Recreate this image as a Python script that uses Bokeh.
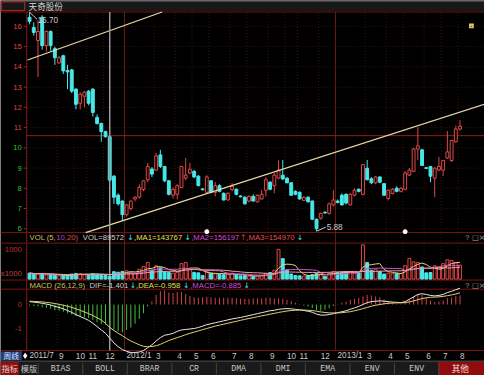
import pandas as pd
from bokeh.plotting import figure
from bokeh.models import Range1d, ColumnDataSource
from bokeh.core.properties import value
from bokeh.embed import file_html
from bokeh.resources import INLINE

# ---------------- data (weekly bars, 天奇股份) ----------------
opens = [16.45,15.95,15.30,16.45,15.05,15.75,14.90,14.20,14.55,13.82,
         13.85,12.90,12.20,12.55,12.80,12.90,11.50,11.20,10.80,10.55,
         8.60,7.66,7.37,6.70,7.00,7.47,7.56,7.94,8.42,8.95,
         8.90,9.65,9.08,8.37,7.66,7.70,8.04,8.50,8.75,8.84,
         8.60,7.97,7.80,8.37,7.80,8.13,7.75,7.42,7.94,7.95,
         7.62,7.56,7.37,7.60,7.33,7.47,7.90,8.30,8.13,8.50,
         8.65,8.50,8.27,7.85,7.80,7.40,7.56,7.37,6.47,6.52,
         6.82,6.76,7.18,7.37,7.66,7.70,7.18,7.66,7.95,7.70,
         8.99,8.47,8.27,8.56,8.23,7.50,7.75,8.00,7.85,7.95,
         8.65,8.84,9.94,9.90,9.02,9.08,8.50,8.90,8.90,9.50,
         9.37,10.30,10.93]
highs = [16.70,16.20,16.30,16.55,15.80,15.80,15.00,14.55,14.60,14.10,
         13.90,12.95,12.75,12.80,12.85,12.95,11.65,11.25,10.85,10.55,
         8.65,7.75,7.40,7.20,7.40,7.60,8.20,8.40,9.25,9.05,
         9.75,9.90,9.10,8.40,8.05,8.20,9.10,9.50,9.25,8.90,
         8.65,8.00,8.65,8.40,8.30,8.20,7.80,7.80,8.25,8.00,
         7.65,7.60,7.65,7.70,7.70,7.90,8.55,8.35,8.75,9.37,
         9.40,8.55,8.30,7.90,7.85,7.60,7.60,7.40,6.50,6.80,
         6.85,7.30,7.90,7.45,7.75,7.75,7.75,8.00,8.00,9.20,
         9.40,8.55,8.60,8.60,8.25,7.95,8.00,8.10,8.05,8.85,
         9.00,10.00,11.02,9.95,9.05,9.10,9.05,9.55,9.40,10.83,
         10.40,11.10,11.36]
lows = [16.10,15.55,13.50,14.85,14.75,14.80,14.10,14.15,13.65,12.90,
        12.70,11.90,11.90,12.00,12.10,11.55,11.15,10.30,10.50,8.30,
        7.23,7.15,6.38,6.60,6.90,7.35,7.50,7.85,8.30,8.55,
        8.85,9.00,8.30,7.65,7.50,7.45,8.00,8.40,8.70,8.50,
        8.10,7.90,7.75,7.75,7.60,7.80,7.40,7.40,7.85,7.65,
        7.55,7.20,7.30,7.35,7.30,7.45,7.60,7.90,7.75,8.45,
        8.40,8.25,7.62,7.65,7.45,7.38,7.30,6.45,5.88,6.45,
        6.75,6.70,7.10,7.25,7.15,7.20,7.15,7.60,7.80,7.65,
        8.40,8.20,8.20,8.25,7.62,7.40,7.70,7.80,7.80,7.90,
        8.60,8.80,9.40,9.10,8.95,8.30,7.56,8.85,8.60,9.45,
        9.30,10.25,10.85]
closes = [16.25,15.70,15.75,15.05,15.75,15.05,14.45,14.45,13.80,13.75,
          12.80,12.15,12.65,12.75,12.20,11.75,11.20,10.80,10.55,8.40,
          7.56,7.23,6.70,7.18,7.37,7.56,8.04,8.37,9.08,8.70,
          9.60,9.08,8.37,7.70,7.94,8.13,9.08,8.65,8.94,8.56,
          8.13,7.93,8.56,7.80,8.13,7.85,7.42,7.75,8.10,7.70,
          7.58,7.23,7.60,7.37,7.65,7.70,8.42,7.95,8.65,8.90,
          8.46,8.27,7.66,7.70,7.47,7.55,7.33,6.47,6.00,6.76,
          6.78,7.23,7.42,7.30,7.18,7.27,7.70,7.90,7.85,9.17,
          8.42,8.27,8.56,8.30,7.66,7.90,7.95,7.85,8.00,8.75,
          8.90,9.94,10.10,9.13,8.98,8.60,8.99,9.08,9.37,9.80,
          10.36,10.93,11.07]
volumes = [200,180,170,190,140,160,130,110,130,130,
           170,190,180,150,155,180,170,160,119,89.572,
           250,230,260,280,230,200,330,420,560,300,
           450,380,250,220,200,230,520,560,330,230,
           210,120,260,200,180,160,150,170,200,150,
           110,120,100,90,110,130,200,220,300,1000,
           690,310,170,120,110,100,120,150,200,180,
           100,200,250,220,230,220,240,200,210,1150,
           560,300,330,260,170,200,180,200,190,450,
           700,580,560,410,210,220,450,380,520,650,
           630,560,470]          # thousand shares
dif = [0.12,0.10,0.08,0.05,0.02,-0.02,-0.08,-0.12,-0.18,-0.25,
       -0.33,-0.42,-0.50,-0.58,-0.66,-0.78,-0.92,-1.06,-1.20,-1.401,
       -1.60,-1.76,-1.88,-1.95,-2.00,-2.00,-1.98,-1.92,-1.80,-1.68,
       -1.52,-1.38,-1.28,-1.25,-1.20,-1.12,-1.06,-1.04,-1.02,-1.00,
       -0.96,-0.90,-0.84,-0.80,-0.76,-0.72,-0.68,-0.64,-0.60,-0.57,
       -0.54,-0.50,-0.46,-0.42,-0.38,-0.34,-0.30,-0.26,-0.24,-0.20,
       -0.18,-0.17,-0.18,-0.20,-0.22,-0.25,-0.28,-0.32,-0.40,-0.44,
       -0.44,-0.42,-0.38,-0.34,-0.30,-0.26,-0.20,-0.14,-0.08,0.00,
       0.08,0.12,0.14,0.15,0.14,0.12,0.10,0.09,0.08,0.12,
       0.22,0.32,0.42,0.45,0.42,0.38,0.36,0.38,0.42,0.50,
       0.55,0.62,0.68]
dea = [0.14,0.13,0.12,0.11,0.09,0.07,0.04,0.01,-0.03,-0.07,
       -0.12,-0.18,-0.24,-0.31,-0.38,-0.46,-0.55,-0.65,-0.78,-0.958,
       -1.08,-1.20,-1.30,-1.42,-1.52,-1.60,-1.68,-1.74,-1.76,-1.75,
       -1.72,-1.66,-1.58,-1.50,-1.44,-1.38,-1.32,-1.26,-1.20,-1.15,
       -1.10,-1.05,-1.00,-0.95,-0.90,-0.86,-0.82,-0.78,-0.74,-0.70,
       -0.66,-0.62,-0.58,-0.55,-0.51,-0.47,-0.44,-0.40,-0.37,-0.33,
       -0.30,-0.27,-0.25,-0.24,-0.23,-0.23,-0.24,-0.25,-0.28,-0.31,
       -0.33,-0.35,-0.35,-0.35,-0.34,-0.32,-0.30,-0.26,-0.22,-0.17,
       -0.12,-0.07,-0.03,0.00,0.03,0.05,0.06,0.07,0.07,0.08,
       0.11,0.15,0.20,0.25,0.28,0.30,0.31,0.32,0.34,0.37,
       0.40,0.44,0.49]
month_labels = ["2011/7","9","10","11","12","2012/1","3","4","5","6","7","8",
                "9","10","11","12","2013/1","3","4","5","6","7","8"]
month_index = [0,7,11,14,18,23,30,35,39,43,48,52,57,61,64,69,73,80,85,89,94,98,102]
year_index = [23, 73]
price_ticks = [6,7,8,9,10,11,12,13,14,15,16]
vol_ticks = [1000]
macd_ticks = [0,-1,-2]
trend1_idx = [-0.46, 31.4]
trend1_price = [14.34, 16.71]
trend2_idx = [13.3, 107.8]
trend2_price = [5.81, 12.16]
mark_price = 10.6
cursor_idx = 19
signal_idx = [42, 89]
high_label, high_idx = "16.70", 0
low_label, low_idx = "5.88", 68
tab_labels = ["BIAS","BOLL","BRAR","CR","DMA","DMI","EMA","ENV","ENV"]

# ---------------- layout (reference pixel geometry) ----------------
W, H = 484, 375
FS = 0.96
X0, DX = 30.0, 4.36
Y16, PPU = 27.0, 21.1
VB, VK = 290.5, 0.031
MZ, MK = 317.0, 25.0
LEFT, TOP, MAIN_BOT, VOL_TOP, VOL_BOT, MACD_TOP, MACD_BOT, TAB_TOP = 27, 12, 242, 253, 291.5, 301, 365, 376

def idx(x): return (x - X0) / DX
def pr(y): return 16 - (y - Y16) / PPU

RED = "#7a1515"
GRID = "#3c1010"
UP = "#e04848"
DN = "#48e8e8"

p = figure(width=W, height=H, x_range=Range1d(idx(0), idx(500)),
           y_range=Range1d(pr(391), pr(0)), output_backend="svg",
           toolbar_location=None, min_border=0, x_axis_location=None,
           y_axis_location=None, background_fill_color="black",
           border_fill_color="black", outline_line_color=None)
p.grid.visible = False
p.extra_x_ranges = {"px": Range1d(0, 500)}
p.extra_y_ranges = {"py": Range1d(391, 0),
                    "vol": Range1d((VB - 391) / VK, VB / VK),
                    "macd": Range1d((MZ - 391) / MK, MZ / MK)}

def txt(x, y, s, color, size=8.0, align="left", font="Liberation Sans", xr="px", yr="py", xoff=0):
    kw = {}
    if xr: kw["x_range_name"] = xr
    if yr: kw["y_range_name"] = yr
    p.text(x=[x], y=[y], text=[s], text_color=color, text_font=value(font),
           text_font_size=f"{size*FS:.1f}px", text_align=align, x_offset=xoff,
           text_baseline="middle", **kw)

def hline(y, x0, x1, color, width=1, dash="solid"):
    p.segment(x0=[x0], y0=[y], x1=[x1], y1=[y], line_color=color, line_width=width,
              line_dash=dash, x_range_name="px", y_range_name="py")

# title bar
p.quad(left=[0], right=[500], top=[0], bottom=[11], fill_color="#181818", line_color=None,
       x_range_name="px", y_range_name="py")
hline(0.5, 0, 500, "#707070")
p.quad(left=[1], right=[25], top=[1.5], bottom=[10.5], fill_color=None, line_color="#c02020",
       x_range_name="px", y_range_name="py")
txt(29, 6, "天奇股份", "#d8d8d8", 9, font="Noto Sans CJK SC")
p.quad(left=[484], right=[489], top=[24], bottom=[29], fill_color="#d8c860", line_color=None,
       x_range_name="px", y_range_name="py")

# grids
n = len(closes)
xs = list(range(n))
p.segment(x0=[LEFT]*len(price_ticks), y0=price_ticks, x1=[500]*len(price_ticks), y1=price_ticks,
          line_color=GRID, line_dash="1 2", x_range_name="px")
mx = [m - 0.5 for m in month_index]
p.segment(x0=mx, y0=[TOP]*len(mx), x1=mx, y1=[MACD_BOT]*len(mx), line_color=GRID,
          line_dash="1 2", y_range_name="py")
yx = [m - 0.5 for m in year_index]
p.segment(x0=yx, y0=[TOP]*len(yx), x1=yx, y1=[MACD_BOT]*len(yx), line_color="#6a1616",
          y_range_name="py")
p.segment(x0=[LEFT], y0=[mark_price], x1=[500], y1=[mark_price], line_color="#9a1c1c",
          x_range_name="px")

# panel borders
for yb in [TOP, MAIN_BOT, VOL_TOP, VOL_BOT, MACD_TOP, MACD_BOT]:
    hline(yb, 0, 500, RED)
p.segment(x0=[LEFT], y0=[TOP], x1=[LEFT], y1=[MACD_BOT], line_color=RED,
          x_range_name="px", y_range_name="py")

# price labels
for t in price_ticks:
    txt(22, t, str(t), "#e04040" if t > mark_price else "#30c030", 8, align="right", yr=None)
p.segment(x0=[24]*len(price_ticks), y0=price_ticks, x1=[LEFT]*len(price_ticks), y1=price_ticks,
          line_color="#a02020", x_range_name="px")

# candles
df = pd.DataFrame(dict(x=xs, o=opens, h=highs, l=lows, c=closes, v=volumes, dif=dif, dea=dea))
df["up"] = df.c > df.o
df["col"] = df.up.map({True: UP, False: DN})
df["fill"] = df.up.map({True: "black", False: DN})
df["top"] = df[["o", "c"]].max(axis=1)
df["bot"] = df[["o", "c"]].min(axis=1)
src = ColumnDataSource(df)
p.segment(x0="x", y0="h", x1="x", y1="l", line_color="col", source=src)
p.vbar(x="x", width=0.68, top="top", bottom="bot", fill_color="fill", line_color="col", source=src)

# trend lines
p.line(trend1_idx, trend1_price, line_color="#e8d8a8", line_width=1.2)
p.line(trend2_idx, trend2_price, line_color="#e8d8a8", line_width=1.2)

# high / low annotations
p.segment(x0=[high_idx], y0=[highs[high_idx]], x1=[high_idx + 1.8], y1=[highs[high_idx] - 0.35],
          line_color="#c8c8c8")
txt(high_idx + 1.9, highs[high_idx] - 0.4, high_label, "#c8c8c8", 8.5, xr=None, yr=None)
p.segment(x0=[low_idx], y0=[lows[low_idx]], x1=[low_idx + 2.2], y1=[lows[low_idx] + 0.2],
          line_color="#c8c8c8")
txt(low_idx + 2.4, lows[low_idx] + 0.2, low_label, "#c8c8c8", 8.5, xr=None, yr=None)

# signal dots and cursor
p.scatter(x=signal_idx, y=[MAIN_BOT - 1]*len(signal_idx), size=4, color="white",
          y_range_name="py")
p.segment(x0=[cursor_idx], y0=[TOP], x1=[cursor_idx], y1=[MACD_BOT], line_color="#9a9a9a",
          line_width=1.5, y_range_name="py")

# ---------------- volume panel ----------------
p.vbar(x="x", width=0.68, top="v", bottom=0, fill_color="fill", line_color="col",
       source=src, y_range_name="vol")
df["ma1"] = df.v.rolling(5, min_periods=1).mean()
df["ma2"] = df.v.rolling(10, min_periods=1).mean()
df["ma3"] = df.v.rolling(20, min_periods=1).mean()
src.data.update(ma1=df.ma1, ma2=df.ma2, ma3=df.ma3)
p.line("x", "ma1", source=src, line_color="#e0d080", y_range_name="vol")
p.line("x", "ma2", source=src, line_color="#d050d0", y_range_name="vol")
p.line("x", "ma3", source=src, line_color="#f0a0a0", y_range_name="vol")
for t in vol_ticks:
    txt(22, t, str(t), "#c03030", 8, align="right", yr="vol")
txt(22, 285, "x1000", "#c04040", 8, align="right")

ARROWS = ("↓", "↑")
vol_head = [(30, "VOL (5,", "#c8c060"), (57.6, "10,", "#b050c0"), (68.7, "20)", "#d05050"),
            (85, "VOL=89572", "#d0d0d0"), (131, "↓", DN), (138, ",MA1=143767", "#e0e050"),
            (190, "↓", DN), (197, ",MA2=156197", "#d050d0"), (247.5, "↑", "#e04040"),
            (254, ",MA3=154970", "#e05050"), (306, "↓", DN)]
for x, s, c in vol_head:
    txt(x, 247, s, c, 8, font="DejaVu Sans" if s in ARROWS else "Liberation Sans")

macd_head = [(30, "MACD (26,12,9)", "#c8c060"), (92, "DIF=-1.401", "#d0d0d0"), (133.5, "↓", DN),
             (140, ",DEA=-0.958", "#e0e050"), (188.5, "↓", DN), (196, ",MACD=-0.885", "#d050d0"),
             (251, "↓", DN)]
for x, s, c in macd_head:
    txt(x, 297, s, c, 8, font="DejaVu Sans" if s in ARROWS else "Liberation Sans")
for yy in [247, 297]:
    txt(480, yy, "?", "#a0a0a0", 7.5)
    txt(487, yy, "□", "#a0a0a0", 7.5, font="DejaVu Sans")
    txt(494, yy, "×", "#a0a0a0", 8, font="DejaVu Sans")

# ---------------- MACD panel ----------------
df["macd"] = 2 * (df.dif - df.dea)
df["mcol"] = (df.macd >= 0).map({True: "#d04545", False: "#40c040"})
src.data.update(macd=df.macd, mcol=df.mcol)
p.segment(x0="x", y0=0, x1="x", y1="macd", line_color="mcol", source=src, y_range_name="macd")
p.line("x", "dif", source=src, line_color="#e8e8e8", y_range_name="macd")
p.line("x", "dea", source=src, line_color="#e0d070", y_range_name="macd")
for t in macd_ticks:
    txt(22, t, str(t), "#c03030", 8, align="right", yr="macd")

# ---------------- date axis ----------------
p.quad(left=[0], right=[22], top=[366], bottom=[375], fill_color="#23407a", line_color=None,
       x_range_name="px", y_range_name="py")
txt(11, 370.5, "周线", "#d8e0ff", 8, align="center", font="Noto Sans CJK SC")
p.scatter(x=[25.5], y=[370.5], marker="diamond", size=5, color="white",
          x_range_name="px", y_range_name="py")
for m, lab in zip(month_index, month_labels):
    txt(m - 0.5, 370.5, lab, "#c8c8c8", 8.5, xr=None, xoff=2)

# ---------------- bottom tabs ----------------
p.quad(left=[0], right=[500], top=[TAB_TOP], bottom=[391], fill_color="#1a1a1a",
       line_color=None, x_range_name="px", y_range_name="py")
hline(TAB_TOP, 0, 500, "#505050")
p.quad(left=[0], right=[19], top=[TAB_TOP + 1], bottom=[391], fill_color="#8a1010",
       line_color=None, x_range_name="px", y_range_name="py")
p.quad(left=[452], right=[500], top=[TAB_TOP + 1], bottom=[391], fill_color="#900c0c",
       line_color=None, x_range_name="px", y_range_name="py")
txt(9.5, 383.5, "指标", "#f0d0d0", 8.5, align="center", font="Noto Sans CJK SC")
txt(29.5, 383.5, "模版", "#c8c8c8", 8.5, align="center", font="Noto Sans CJK SC")
txt(475, 383.5, "其他", "#f0e0e0", 9, align="center", font="Noto Sans CJK SC")
seps = [39 + 46 * k for k in range(10)]
p.segment(x0=seps, y0=[TAB_TOP + 2]*len(seps), x1=seps, y1=[390]*len(seps),
          line_color="#444444", x_range_name="px", y_range_name="py")
for k, lab in enumerate(tab_labels):
    txt(62 + 46 * k, 383.5, lab, "#c8c8c8", 8.5, align="center", font="Liberation Mono")

open("out.html", "w").write(file_html(p, INLINE))
